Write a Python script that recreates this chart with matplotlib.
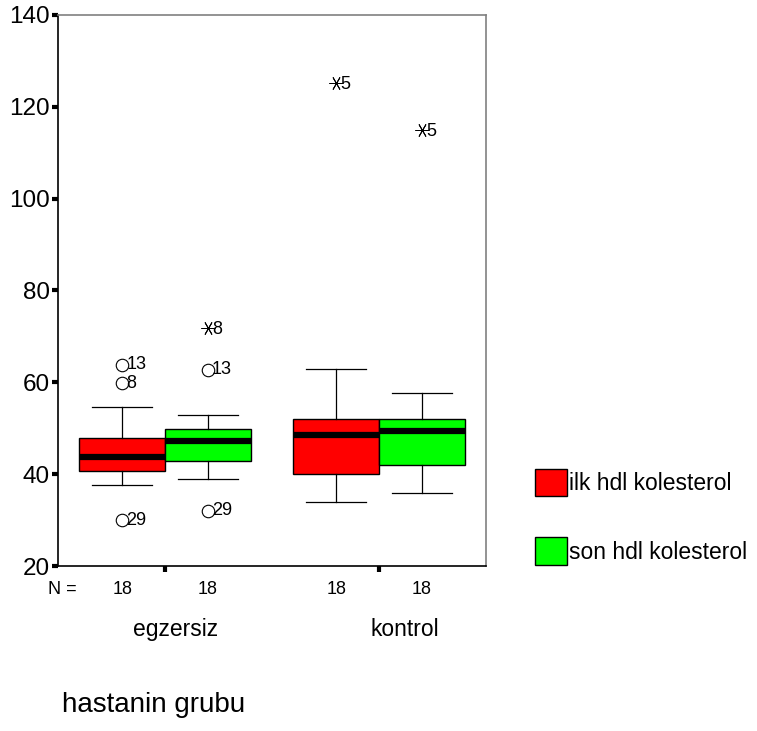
import matplotlib
matplotlib.use("Agg")
import matplotlib.pyplot as plt
from matplotlib.patches import Patch

plt.rcParams['font.family'] = ['Liberation Sans', 'DejaVu Sans']

# hdl kolesterol, box statistics per group (ilk / son)
groups = ['egzersiz', 'kontrol']
series = ['ilk hdl kolesterol', 'son hdl kolesterol']
colors = ['#ff0000', '#00ff00']
counts = [[18, 18], [18, 18]]
q1 = [[40.8, 42.9], [40.0, 42.1]]
med = [[43.8, 47.3], [48.5, 49.4]]
q3 = [[47.8, 49.9], [52.1, 52.1]]
whislo = [[37.7, 39.0], [33.9, 36.0]]
whishi = [[54.6, 52.9], [62.9, 57.7]]
# outliers: (value, case number)
outliers = [[[(63.8, 13), (59.8, 8), (30.0, 29)], [(62.7, 13), (32.0, 29)]],
            [[], []]]
extremes = [[[], [(71.8, 8)]],
            [[(125.2, 5)], [(115.0, 5)]]]

fig = plt.figure(figsize=(7.57, 7.31), dpi=100)
ax = fig.add_axes([0.0766, 0.2257, 0.5654, 0.7538])

offsets = [-0.2, 0.2]
for g in range(len(groups)):
    for s in range(len(series)):
        x = g + 1 + offsets[s]
        st = dict(q1=q1[g][s], med=med[g][s], q3=q3[g][s],
                  whislo=whislo[g][s], whishi=whishi[g][s], fliers=[])
        ax.bxp([st], positions=[x], widths=0.4, patch_artist=True,
               showfliers=False, manage_ticks=False,
               boxprops=dict(facecolor=colors[s], edgecolor='black', linewidth=1.0),
               medianprops=dict(color='black', linewidth=4.5, solid_capstyle='butt'),
               whiskerprops=dict(color='black', linewidth=0.9),
               capprops=dict(color='black', linewidth=0.9),
               capwidths=0.28)
        for v, n in outliers[g][s]:
            ax.plot(x, v, marker='o', ms=9, mfc='none', mec='black', mew=0.8)
            ax.annotate(str(n), (x, v), xytext=(3, 0), textcoords='offset points',
                        fontsize=13, va='center', ha='left')
        for v, n in extremes[g][s]:
            ax.plot(x, v, marker=(6, 2, 90), ms=10, color='black', mew=0.7)
            ax.annotate(str(n), (x, v), xytext=(3, -1), textcoords='offset points',
                        fontsize=13, va='center', ha='left')
        ax.text(x, -0.043, str(counts[g][s]), transform=ax.get_xaxis_transform(),
                ha='center', va='center', fontsize=13)

ax.text(-0.024, -0.043, 'N =', transform=ax.transAxes,
        ha='left', va='center', fontsize=13)

ax.set_xlim(0.5, 2.5)
ax.set_ylim(20, 140)
ax.set_yticks([20, 40, 60, 80, 100, 120, 140])
ax.set_xticks([1, 2])
ax.set_xticklabels([])
ax.tick_params(axis='y', labelsize=17.5, length=4, width=3, pad=2, direction='out')
ax.tick_params(axis='x', length=4, width=3, direction='out')

for name in ['left', 'bottom']:
    ax.spines[name].set_color('black')
    ax.spines[name].set_linewidth(1.2)
for name in ['top', 'right']:
    ax.spines[name].set_color('#808080')
    ax.spines[name].set_linewidth(1.2)

# group names under the N row
cat_x = [1.051, 2.121]
for xc, name in zip(cat_x, groups):
    ax.text(xc, -0.115, name, transform=ax.get_xaxis_transform(),
            ha='center', va='center', fontsize=16.5)

fig.text(0.082, 0.035, 'hastanin grubu', fontsize=20, ha='left', va='center')

handles = [Patch(facecolor=c, edgecolor='black', linewidth=1.0) for c in colors]
fig.legend(handles, series, loc='lower left', bbox_to_anchor=(0.695, 0.215),
           frameon=False, fontsize=16.5, handlelength=1.4, handleheight=1.45,
           handletextpad=0.05, labelspacing=1.8, borderaxespad=0)

fig.savefig('out.png', dpi=100)
